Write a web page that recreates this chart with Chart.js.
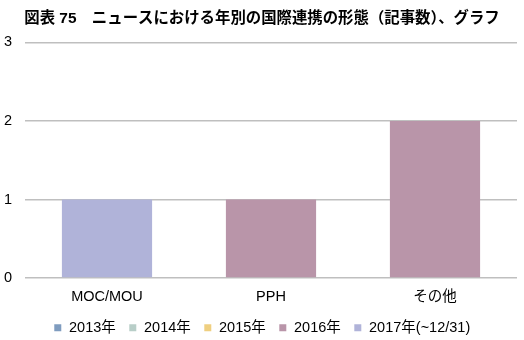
<!DOCTYPE html>
<html>
<head>
<meta charset="utf-8">
<script src="https://cdn.jsdelivr.net/npm/chart.js@4"></script>
<style>
  html, body { margin: 0; padding: 0; background: #fff; }
  #wrap { width: 524px; height: 340px; }
</style>
</head>
<body>
<div id="wrap"><canvas id="grafico"></canvas></div>
<script>
const categorias = ['MOC/MOU', 'PPH', 'その他'];
const v2013 = [0, 0, 0];
const v2014 = [0, 0, 0];
const v2015 = [0, 0, 0];
const v2016 = [0, 1, 2];
const v2017 = [1, 0, 0];
const ticksY = [0, 1, 2, 3];

const fonte = "'Liberation Sans', Arial, 'Noto Sans CJK JP', sans-serif";

const grafico = document.getElementById('grafico');
new Chart(grafico, {
  type: 'bar',
  data: {
    labels: categorias,
    datasets: [
      { label: '2013年', data: v2013, backgroundColor: '#7f9cbf' },
      { label: '2014年', data: v2014, backgroundColor: '#b8cec8' },
      { label: '2015年', data: v2015, backgroundColor: '#efcf80' },
      { label: '2016年', data: v2016, backgroundColor: '#b995a9' },
      { label: '2017年(~12/31)', data: v2017, backgroundColor: '#b0b3d9' }
    ]
  },
  options: {
    responsive: true,
    maintainAspectRatio: false,
    animation: false,
    categoryPercentage: 1,
    barPercentage: 0.55,
    layout: { padding: { left: 0, right: 0, top: 4, bottom: -5 } },
    scales: {
      x: {
        stacked: true,
        grid: { display: false },
        border: { display: false },
        ticks: { color: '#000', font: { family: fonte, size: 14.5 }, padding: 2 }
      },
      y: {
        stacked: true,
        min: 0,
        max: 3,
        afterBuildTicks: (ax) => { ax.ticks = ticksY.map(v => ({ value: v })); },
        afterFit: (ax) => { ax.width = 25; },
        grid: { color: '#bfbfbf', lineWidth: 1.5, drawTicks: false },
        border: { display: false },
        ticks: { color: '#000', font: { family: fonte, size: 14.5 }, padding: 13 }
      },
      // espaço vazio à direita da área do gráfico
      yDir: {
        position: 'right',
        grid: { display: false },
        border: { display: false },
        ticks: { display: false },
        afterFit: (ax) => { ax.width = 7; }
      }
    },
    plugins: {
      title: {
        display: true,
        text: '図表 75　ニュースにおける年別の国際連携の形態（記事数）、グラフ',
        align: 'center',
        color: '#000',
        font: { family: fonte, size: 15.4, weight: 'bold' },
        padding: { top: 6, bottom: 14 }
      },
      legend: {
        position: 'bottom',
        labels: {
          color: '#000',
          font: { family: fonte, size: 14.5 },
          usePointStyle: true,
          pointStyle: 'rect',
          boxWidth: 8,
          boxHeight: 7,
          padding: 13
        }
      },
      tooltip: { enabled: false }
    }
  }
});
</script>
</body>
</html>
